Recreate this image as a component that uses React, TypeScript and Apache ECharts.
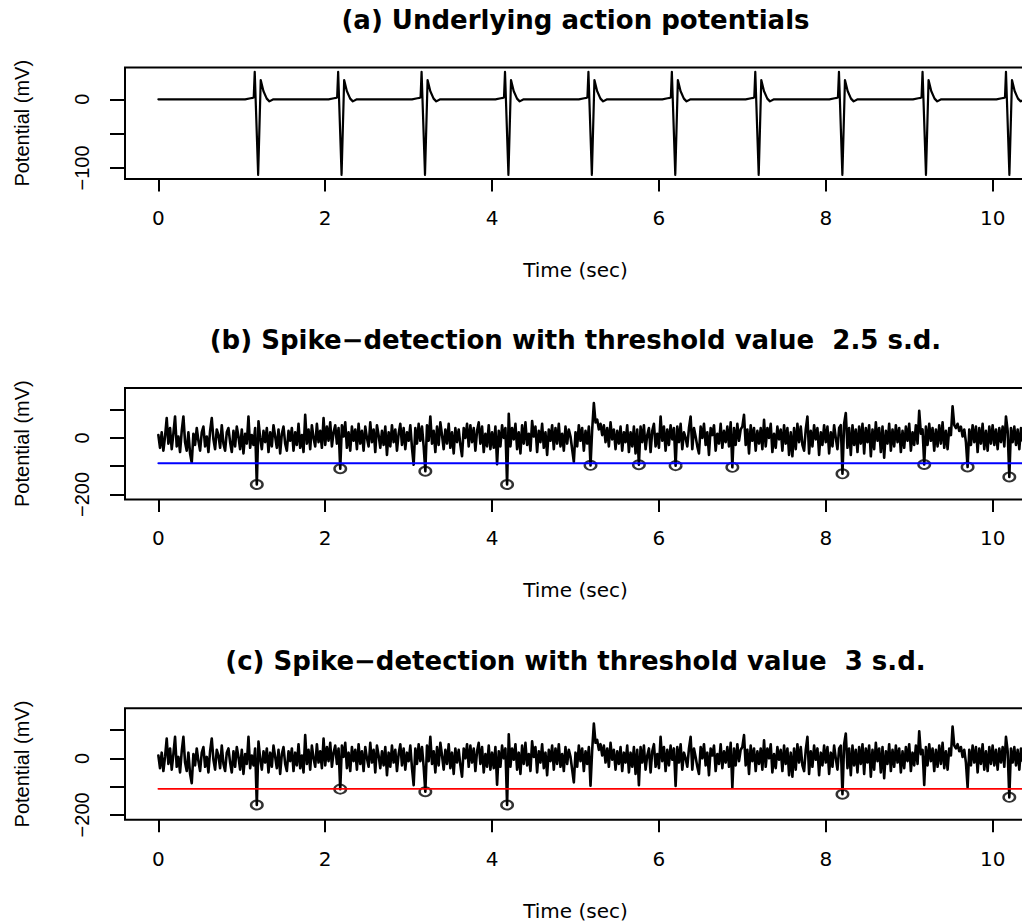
import { useEffect, useRef } from "react";
import * as echarts from "echarts";

// ---- Data ----
const xTicks = [0, 2, 4, 6, 8, 10];
const yTicksA = [-100, -50, 0];
const yLabelsA = [-100, 0];
const yTicksBC = [-200, -100, 0, 100];
const yLabelsBC = [-200, 0];

// Underlying action potentials: spike onset times and the shape of one spike
const spikeTimes = [1.155, 2.155, 3.155, 4.155, 5.155, 6.155, 7.155, 8.158, 9.16, 10.16];
const spikeShapeOffsets = [-0.115, -0.05, -0.024, -0.012, 0, 0.041, 0.072, 0.104, 0.144, 0.176, 0.224];
const spikeShapeValues = [0, 1.5, 2, 3, 40, -110, 28, 12, 1, -3, 0];

// Noisy recording (same trace in panels b and c), sampled every 0.02 s
const sampleStep = 0.02;
const noisyTrace = [
  10, -35, 20, -45, 5, 70, -20, 35, -40, 15, 76, -30, 5, -50, 25, 76, -15, -45, 20, -55,
  -88, 15, -25, 35, -10, -45, 20, 40, -30, 5, -50, 25, 70, -5, -40, 30, 10, -35, 45, -20,
  -45, 20, 35, -15, -50, 25, -30, 40, 5, -40, 30, -55, 15, -20, 76, -35, 10, -25, 35, -165,
  59, 0, -40, 25, -15, 35, -50, 20, -30, 45, 5, -35, 30, -55, 15, 40, -20, -45, 25, -10,
  35, -45, 20, -25, 50, -35, 10, -50, 82, -20, 30, -40, 45, 0, -30, 50, -15, 25, -35, 70,
  -25, 40, -10, 55, -30, 20, 45, -20, 35, -109, 45, 5, 55, -35, 20, -45, 40, -10, 30, -40,
  50, -20, 25, -45, 40, 0, -30, 55, -15, 30, -50, 45, 10, -35, 25, -25, 40, -60, 20, -30,
  45, -15, 30, -45, 15, 50, -25, 35, -40, 20, -10, 45, -35, -95, 35, -20, 50, -10, 40, -30,
  -118, 45, -10, 76, -20, 25, -50, 40, -25, 55, 10, -40, 30, -20, 50, -35, 20, -55, 35, -15,
  30, -25, -65, 35, 0, 50, -30, 45, -15, 35, -45, 25, 55, -20, 40, -50, 15, -30, 45, -40,
  20, -35, 40, -93, 25, -30, 45, 0, 35, -165, 85, -30, 35, -5, 50, -40, 20, -55, 45, -20,
  55, -25, 15, -45, 60, 5, 40, -50, 25, -15, 50, -35, 20, -60, 30, -10, 45, -40, 35, -20,
  50, -30, 15, -45, 40, -20, 30, 5, -40, -85, 20, -30, 45, -10, 35, -45, 25, -20, 40, -97,
  30, 123, 55, 65, 30, 50, 10, 45, -15, 35, -30, 55, -5, 30, -40, 25, -20, 40, -45, 20,
  -15, 45, -50, 20, -30, 40, -55, 30, -95, 40, -15, 45, -40, 10, 35, -50, 25, 50, -30, 15,
  -35, 76, -10, 40, -45, 30, -25, 45, -5, 35, -98, 40, -15, 50, -40, 20, 0, -30, 35, 76,
  -40, 35, 5, -30, -55, 40, 0, 50, -25, 20, -60, 35, 10, 45, -45, 15, -20, 50, -35, 25,
  -15, 40, -30, 55, -104, 35, -25, 50, -10, 30, 40, 82, -25, 30, -55, 45, -10, 35, -45, 25,
  -20, 35, -40, 64, -30, 35, 0, 50, -50, 15, -35, 40, -5, 30, -45, 45, -20, 35, -60, 20,
  -65, 35, -40, 50, -15, 40, -25, -45, 30, 76, -55, 25, -30, 45, -5, 35, -60, 20, -25, 45,
  -15, 40, -55, 20, -30, 45, 0, -40, 35, 45, -127, 50, 88, -35, 35, -60, 45, -25, 30, -50,
  40, -20, 50, -55, 35, -15, 45, -65, 30, -40, 55, -10, 35, -50, 40, -70, 25, -20, 50, -45,
  30, -30, 45, -15, 35, -50, 25, -35, 40, -10, 50, -45, 20, -25, 45, -20, 96, 15, 30, -94,
  40, -25, 50, -10, 35, -45, 30, -30, 45, -20, 55, -35, 25, -40, 35, 10, 112, 45, 35, 50,
  25, 40, 5, 30, -15, -103, 30, -25, 45, -15, 40, -50, 35, -20, 50, -40, 25, -45, 40, -20,
  45, -25, 30, -40, 35, -15, 40, -30, 76, 25, -138, 35, -15, 40, -25, 30, -40, 35, -10, 25,
  -30,
];

const thresholdB = -90; // 2.5 s.d.
const thresholdC = -108; // 3 s.d.
const traceStart = 0;
const traceEnd = 10.45;

const detectedB: [number, number][] = [
  [1.18, -165], [2.18, -109], [3.2, -118], [4.18, -165], [5.18, -97], [5.76, -95],
  [6.2, -98], [6.88, -104], [8.2, -127], [9.18, -94], [9.7, -103], [10.2, -138],
];
const detectedC: [number, number][] = [
  [1.18, -165], [2.18, -109], [3.2, -118], [4.18, -165], [8.2, -127], [10.2, -138],
];

const titles = [
  "(a) Underlying action potentials",
  "(b) Spike\u2212detection with threshold value  2.5 s.d.",
  "(c) Spike\u2212detection with threshold value  3 s.d.",
];
const xName = "Time (sec)";
const yName = "Potential (mV)";

// ---- Build series data ----
function buildTraceA(): [number, number][] {
  const pts: [number, number][] = [[traceStart, 0]];
  spikeTimes.forEach((t) => {
    spikeShapeOffsets.forEach((o, k) => pts.push([t + o, spikeShapeValues[k]]));
  });
  pts.push([traceEnd, 0]);
  return pts;
}
const traceA = buildTraceA();
const traceNoisy: [number, number][] = noisyTrace.map((v, i) => [i * sampleStep, v]);

const minus = (v: number) => String(v).replace("-", "\u2212");

const LEFT = 125;
const WIDTH = 901;
const HEIGHT = 111.5;
const TOPS = [67.5, 387.9, 708.3];
const PANEL_STEP = 320.4;

export default function App() {
  const ref = useRef<HTMLDivElement>(null);
  useEffect(() => {
    const chart = echarts.init(ref.current!, null, { renderer: "svg" });

    const grids = TOPS.map((top) => ({
      left: LEFT,
      top,
      width: WIDTH,
      height: HEIGHT,
      show: true,
      borderColor: "#000",
      borderWidth: 2,
      backgroundColor: "transparent",
      containLabel: false,
      outerBoundsMode: "none",
    }));

    const xAxes = TOPS.map((_, i) => ({
      type: "value",
      gridIndex: i,
      min: -0.4,
      max: 10.4,
      name: xName,
      nameLocation: "middle",
      nameGap: 81,
      nameTextStyle: { fontFamily: "DejaVu Sans", fontSize: 20, color: "#000", verticalAlign: "top" },
      axisLine: { show: false, onZero: false },
      splitLine: { show: false },
      axisTick: {
        show: true,
        inside: false,
        customValues: xTicks,
        length: 12.5,
        lineStyle: { color: "#000", width: 2 },
      },
      axisLabel: {
        customValues: xTicks,
        margin: 29,
        fontFamily: "DejaVu Sans",
        fontSize: 20,
        color: "#000",
      },
    }));

    const yAxes = TOPS.map((_, i) => ({
      type: "value",
      gridIndex: i,
      min: i === 0 ? -116 : -217.5,
      max: i === 0 ? 46.3 : 177,
      name: yName,
      nameLocation: "middle",
      nameRotate: 90,
      nameGap: 93,
      nameTextStyle: { fontFamily: "Liberation Sans", fontSize: 20, color: "#000" },
      axisLine: { show: false, onZero: false },
      splitLine: { show: false },
      axisTick: {
        show: true,
        inside: false,
        customValues: i === 0 ? yTicksA : yTicksBC,
        length: 15,
        lineStyle: { color: "#000", width: 2 },
      },
      axisLabel: {
        customValues: i === 0 ? yLabelsA : yLabelsBC,
        rotate: 90,
        margin: 33,
        fontFamily: "Liberation Sans",
        fontSize: 20,
        color: "#000",
        formatter: (v: number) => minus(v),
      },
    }));

    const traceLine = (data: [number, number][], gi: number, width: number, color: string) => ({
      type: "line",
      xAxisIndex: gi,
      yAxisIndex: gi,
      data,
      symbol: "none",
      silent: true,
      clip: true,
      lineStyle: { color, width, join: "round", cap: "round" },
    });

    const circles = (data: [number, number][], gi: number) => ({
      type: "scatter",
      xAxisIndex: gi,
      yAxisIndex: gi,
      data,
      symbol: "circle",
      symbolSize: [11.5, 9],
      silent: true,
      itemStyle: { color: "rgba(0,0,0,0)", borderColor: "#000", borderWidth: 2.2 },
    });

    const option = {
      animation: false,
      backgroundColor: "#fff",
      grid: grids,
      xAxis: xAxes,
      yAxis: yAxes,
      graphic: titles.map((t, i) => ({
        type: "text",
        x: LEFT + WIDTH / 2,
        y: 20 + i * PANEL_STEP,
        silent: true,
        style: {
          text: t,
          font: 'bold 26px "DejaVu Sans"',
          fill: "#000",
          textAlign: "center",
          textVerticalAlign: "middle",
        },
      })),
      series: [
        traceLine(traceA, 0, 2.2, "#000"),
        traceLine(traceNoisy, 1, 2.6, "#000"),
        traceLine([[traceStart, thresholdB], [traceEnd, thresholdB]], 1, 2, "#0000ff"),
        circles(detectedB, 1),
        traceLine(traceNoisy, 2, 2.6, "#000"),
        traceLine([[traceStart, thresholdC], [traceEnd, thresholdC]], 2, 1.8, "#ff0000"),
        circles(detectedC, 2),
      ],
    };
    chart.setOption(option as any);
    return () => chart.dispose();
  }, []);
  return (
    <div
      ref={ref}
      style={{ position: "fixed", left: 0, top: 0, width: 1022, height: 922, background: "#fff" }}
    />
  );
}
